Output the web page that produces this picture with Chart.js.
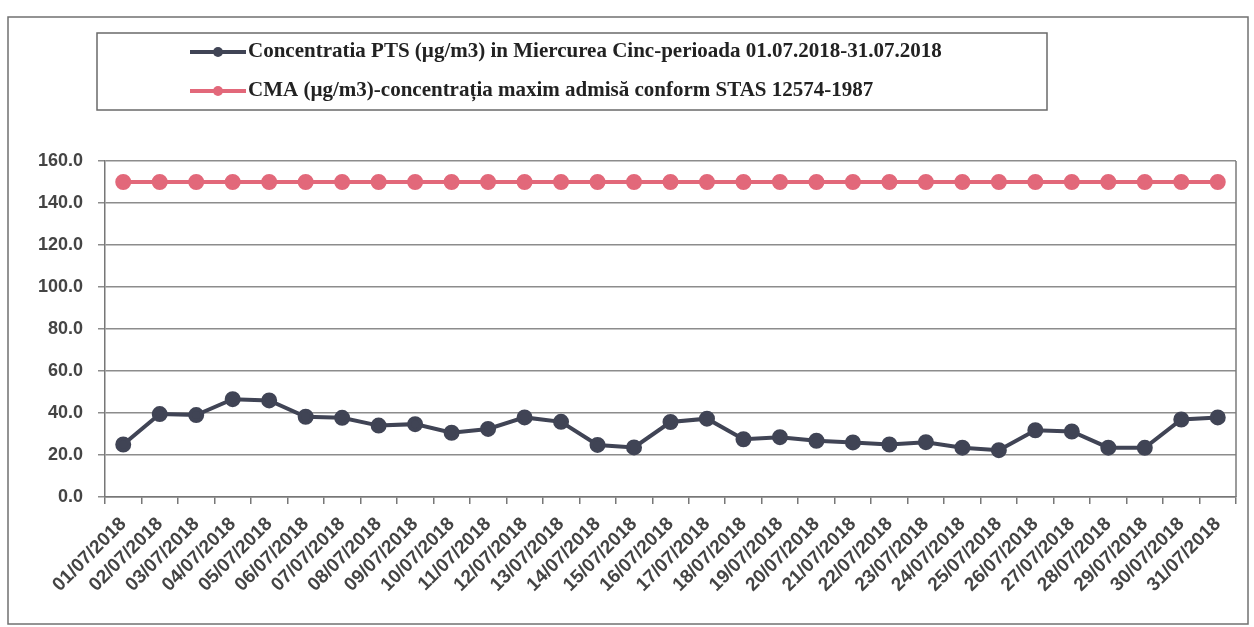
<!DOCTYPE html>
<html>
<head>
<meta charset="utf-8">
<script src="https://cdn.jsdelivr.net/npm/chart.js@4"></script>
<style>
  html, body { margin: 0; padding: 0; background: #fff; }
  #wrap { width: 1254px; height: 627px; position: relative; }
</style>
</head>
<body>
<div id="wrap"><canvas id="c" width="1254" height="627"></canvas></div>
<script>
// --- data ---
const dates = [
  '01/07/2018', '02/07/2018', '03/07/2018', '04/07/2018', '05/07/2018', '06/07/2018',
  '07/07/2018', '08/07/2018', '09/07/2018', '10/07/2018', '11/07/2018', '12/07/2018',
  '13/07/2018', '14/07/2018', '15/07/2018', '16/07/2018', '17/07/2018', '18/07/2018',
  '19/07/2018', '20/07/2018', '21/07/2018', '22/07/2018', '23/07/2018', '24/07/2018',
  '25/07/2018', '26/07/2018', '27/07/2018', '28/07/2018', '29/07/2018', '30/07/2018',
  '31/07/2018'
];
const ptsValues = [
  25.0, 39.5, 39.0, 46.6, 46.0, 38.2, 37.7, 34.0, 34.7, 30.6, 32.4, 37.9,
  35.8, 24.8, 23.6, 35.7, 37.3, 27.5, 28.5, 26.8, 26.0, 25.0, 26.1, 23.5,
  22.3, 31.8, 31.2, 23.5, 23.4, 36.9, 37.9
];
const cmaValues = [
  150, 150, 150, 150, 150, 150, 150, 150, 150, 150, 150, 150, 150, 150, 150, 150,
  150, 150, 150, 150, 150, 150, 150, 150, 150, 150, 150, 150, 150, 150, 150
];
const ptsLabel = 'Concentratia PTS (\u00b5g/m3) in Miercurea Cinc-perioada 01.07.2018-31.07.2018';
const cmaLabel = 'CMA (\u00b5g/m3)-concentra\u021bia maxim admis\u0103 conform STAS 12574-1987';
const yMin = 0, yMax = 160, yStep = 20;

const ptsColor = '#404455';
const cmaColor = '#e2687a';

// frame, right plot border and boxed legend
const framePlugin = {
  id: 'framePlugin',
  afterDraw(chart) {
    const ctx = chart.ctx;
    const a = chart.chartArea;
    ctx.save();
    // outer frame
    ctx.strokeStyle = '#707070';
    ctx.lineWidth = 1.5;
    ctx.strokeRect(8, 17, 1240, 607);
    // right edge of plot
    ctx.strokeStyle = '#7a7a7a';
    ctx.beginPath();
    ctx.moveTo(a.right, a.top);
    ctx.lineTo(a.right, a.bottom);
    ctx.stroke();
    // legend box
    ctx.strokeStyle = '#6a6a6a';
    ctx.strokeRect(97, 33, 950, 77);
    ctx.font = 'bold 21px "Liberation Serif", "Times New Roman", serif';
    ctx.textBaseline = 'middle';
    ctx.textAlign = 'left';
    const rows = [52, 91];
    chart.data.datasets.forEach((ds, i) => {
      const y = rows[i];
      ctx.strokeStyle = ds.borderColor;
      ctx.fillStyle = ds.borderColor;
      ctx.lineWidth = 4;
      ctx.beginPath();
      ctx.moveTo(190, y);
      ctx.lineTo(246, y);
      ctx.stroke();
      ctx.beginPath();
      ctx.arc(218, y, 5, 0, Math.PI * 2);
      ctx.fill();
      ctx.fillStyle = '#222';
      ctx.fillText(ds.label, 248, y);
    });
    ctx.restore();
  }
};

new Chart(document.getElementById('c'), {
  type: 'line',
  data: {
    labels: dates,
    datasets: [
      {
        label: ptsLabel,
        data: ptsValues,
        borderColor: ptsColor,
        backgroundColor: ptsColor,
        pointBackgroundColor: ptsColor,
        pointBorderColor: ptsColor,
        borderWidth: 4,
        pointRadius: 6,
        tension: 0
      },
      {
        label: cmaLabel,
        data: cmaValues,
        borderColor: cmaColor,
        backgroundColor: cmaColor,
        pointBackgroundColor: cmaColor,
        pointBorderColor: cmaColor,
        borderWidth: 4,
        pointRadius: 6,
        tension: 0
      }
    ]
  },
  options: {
    responsive: false,
    animation: false,
    layout: { padding: { left: 0, right: 18, top: 161, bottom: 0 } },
    plugins: {
      legend: { display: false },
      tooltip: { enabled: false }
    },
    scales: {
      x: {
        offset: true,
        grid: {
          offset: true,
          drawOnChartArea: false,
          drawTicks: true,
          tickLength: 7,
          color: '#777',
          lineWidth: 1.5
        },
        border: { color: '#777', width: 1.5 },
        ticks: {
          autoSkip: false,
          minRotation: 45,
          maxRotation: 45,
          padding: 9,
          color: '#444',
          font: { family: '"Liberation Sans", Arial, sans-serif', size: 19, weight: 'bold' }
        },
        afterFit(scale) { scale.height = 130; }
      },
      y: {
        min: yMin,
        max: yMax,
        grid: {
          color: '#8c8c8c',
          lineWidth: 1.5,
          drawTicks: true,
          tickLength: 7
        },
        border: { color: '#777', width: 1.5 },
        ticks: {
          stepSize: yStep,
          padding: 15,
          color: '#444',
          font: { family: '"Liberation Sans", Arial, sans-serif', size: 18, weight: 'bold' },
          callback: v => v.toFixed(1)
        },
        afterFit(scale) { scale.width = 105; }
      }
    }
  },
  plugins: [framePlugin]
});
</script>
</body>
</html>
